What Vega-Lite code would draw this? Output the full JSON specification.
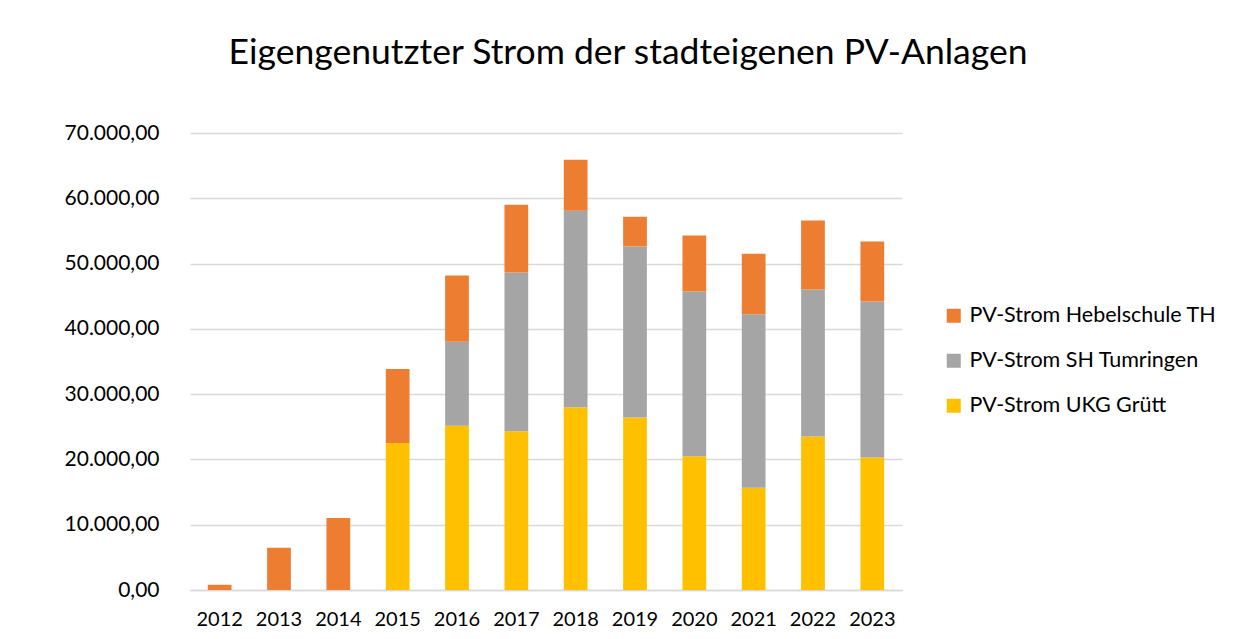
{
  "$schema": "https://vega.github.io/schema/vega-lite/v6.json",
  "autosize": {"type": "none"},
  "width": 712,
  "height": 457,
  "padding": {"left": 190, "top": 133, "right": 348, "bottom": 49},
  "background": "white",
  "config": {
    "locale": {"number": {"decimal": ",", "thousands": ".", "grouping": [3], "currency": ["", " €"]}},
    "font": "Lato",
    "view": {"stroke": null}
  },
  "title": {
    "text": "Eigengenutzter Strom der stadteigenen PV-Anlagen",
    "font": "Lato",
    "fontSize": 35.5,
    "fontWeight": "normal",
    "color": "#000000",
    "anchor": "middle",
    "dx": 82,
    "offset": 51
  },
  "data": {
    "values": [
      {"jahr": "2012", "anlage": "PV-Strom Hebelschule TH", "ord": 3, "kwh": 800},
      {"jahr": "2013", "anlage": "PV-Strom Hebelschule TH", "ord": 3, "kwh": 6480},
      {"jahr": "2014", "anlage": "PV-Strom Hebelschule TH", "ord": 3, "kwh": 11030},
      {"jahr": "2015", "anlage": "PV-Strom UKG Grütt", "ord": 1, "kwh": 22530},
      {"jahr": "2015", "anlage": "PV-Strom Hebelschule TH", "ord": 3, "kwh": 11340},
      {"jahr": "2016", "anlage": "PV-Strom UKG Grütt", "ord": 1, "kwh": 25140},
      {"jahr": "2016", "anlage": "PV-Strom SH Tumringen", "ord": 2, "kwh": 12870},
      {"jahr": "2016", "anlage": "PV-Strom Hebelschule TH", "ord": 3, "kwh": 10160},
      {"jahr": "2017", "anlage": "PV-Strom UKG Grütt", "ord": 1, "kwh": 24310},
      {"jahr": "2017", "anlage": "PV-Strom SH Tumringen", "ord": 2, "kwh": 24320},
      {"jahr": "2017", "anlage": "PV-Strom Hebelschule TH", "ord": 3, "kwh": 10380},
      {"jahr": "2018", "anlage": "PV-Strom UKG Grütt", "ord": 1, "kwh": 27990},
      {"jahr": "2018", "anlage": "PV-Strom SH Tumringen", "ord": 2, "kwh": 30100},
      {"jahr": "2018", "anlage": "PV-Strom Hebelschule TH", "ord": 3, "kwh": 7820},
      {"jahr": "2019", "anlage": "PV-Strom UKG Grütt", "ord": 1, "kwh": 26410},
      {"jahr": "2019", "anlage": "PV-Strom SH Tumringen", "ord": 2, "kwh": 26210},
      {"jahr": "2019", "anlage": "PV-Strom Hebelschule TH", "ord": 3, "kwh": 4550},
      {"jahr": "2020", "anlage": "PV-Strom UKG Grütt", "ord": 1, "kwh": 20480},
      {"jahr": "2020", "anlage": "PV-Strom SH Tumringen", "ord": 2, "kwh": 25240},
      {"jahr": "2020", "anlage": "PV-Strom Hebelschule TH", "ord": 3, "kwh": 8590},
      {"jahr": "2021", "anlage": "PV-Strom UKG Grütt", "ord": 1, "kwh": 15680},
      {"jahr": "2021", "anlage": "PV-Strom SH Tumringen", "ord": 2, "kwh": 26560},
      {"jahr": "2021", "anlage": "PV-Strom Hebelschule TH", "ord": 3, "kwh": 9260},
      {"jahr": "2022", "anlage": "PV-Strom UKG Grütt", "ord": 1, "kwh": 23500},
      {"jahr": "2022", "anlage": "PV-Strom SH Tumringen", "ord": 2, "kwh": 22530},
      {"jahr": "2022", "anlage": "PV-Strom Hebelschule TH", "ord": 3, "kwh": 10570},
      {"jahr": "2023", "anlage": "PV-Strom UKG Grütt", "ord": 1, "kwh": 20280},
      {"jahr": "2023", "anlage": "PV-Strom SH Tumringen", "ord": 2, "kwh": 23910},
      {"jahr": "2023", "anlage": "PV-Strom Hebelschule TH", "ord": 3, "kwh": 9200}
    ]
  },
  "mark": {"type": "bar"},
  "encoding": {
    "x": {
      "field": "jahr",
      "type": "ordinal",
      "scale": {"paddingInner": 0.6, "paddingOuter": 0.3},
      "axis": {
        "title": null,
        "labelAngle": 0,
        "labelFontSize": 20,
        "labelColor": "#000000",
        "labelPadding": 19,
        "ticks": false,
        "domain": true,
        "domainColor": "#d9d9d9",
        "domainWidth": 1.5
      }
    },
    "y": {
      "field": "kwh",
      "type": "quantitative",
      "stack": "zero",
      "scale": {"domain": [0, 70000], "nice": false},
      "axis": {
        "title": null,
        "values": [0, 10000, 20000, 30000, 40000, 50000, 60000, 70000],
        "format": ",.2f",
        "labelFontSize": 21,
        "labelColor": "#000000",
        "labelPadding": 31,
        "ticks": false,
        "domain": false,
        "grid": true,
        "gridColor": "#d9d9d9",
        "gridWidth": 1.5
      }
    },
    "color": {
      "field": "anlage",
      "type": "nominal",
      "scale": {
        "domain": ["PV-Strom Hebelschule TH", "PV-Strom SH Tumringen", "PV-Strom UKG Grütt"],
        "range": ["#ED7D31", "#A5A5A5", "#FFC000"]
      },
      "legend": {
        "title": null,
        "orient": "none",
        "legendX": 753,
        "legendY": 172,
        "symbolType": "square",
        "symbolSize": 196,
        "symbolStrokeWidth": 0,
        "labelFontSize": 21.5,
        "labelLimit": 0,
        "labelColor": "#000000",
        "labelOffset": 5,
        "rowPadding": 22
      }
    },
    "order": {"field": "ord", "type": "quantitative"}
  }
}
